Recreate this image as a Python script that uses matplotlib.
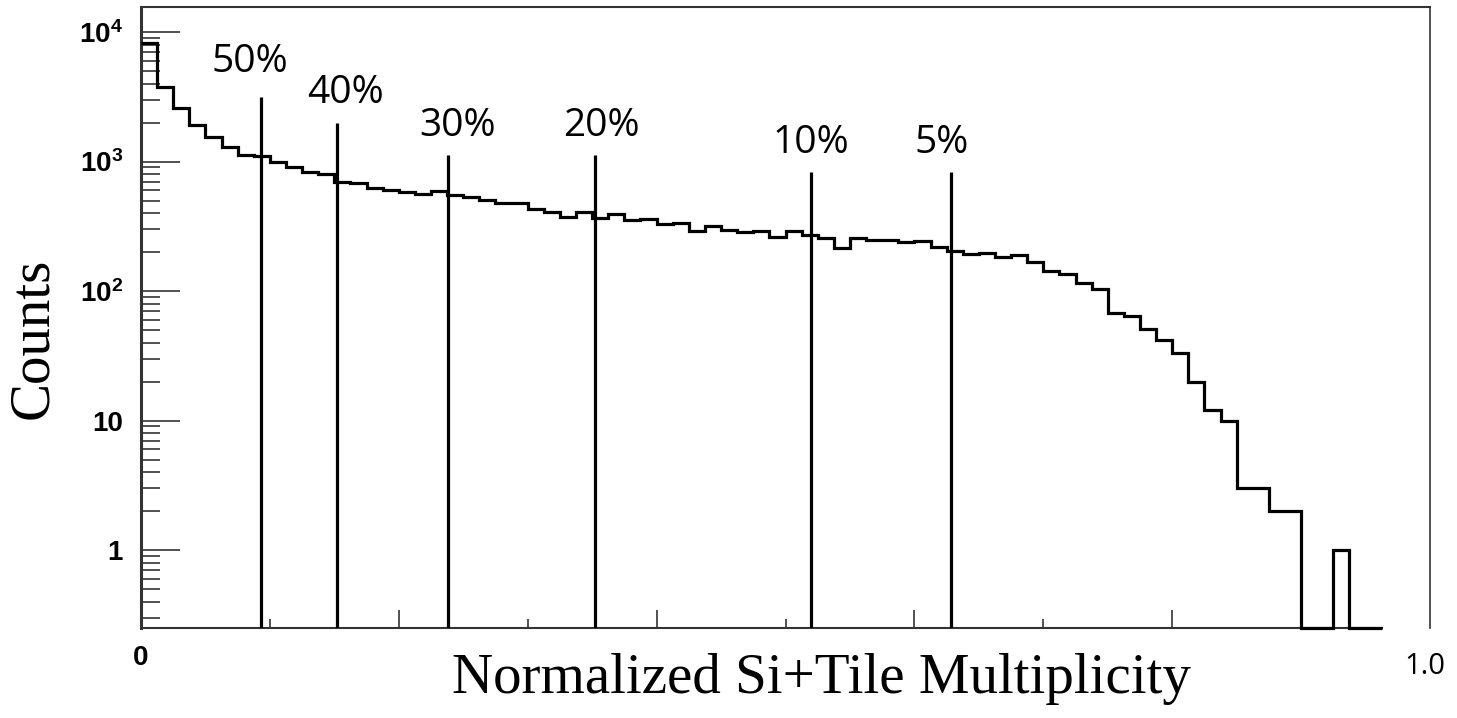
import matplotlib
import numpy as np

matplotlib.use("Agg")
import matplotlib.pyplot as plt
from matplotlib.ticker import FixedLocator, FixedFormatter, LogLocator, NullFormatter
import matplotlib.transforms as mtransforms

# histogram: 80 bins over [0, 1], filled up to bin 76
BIN_WIDTH = 1 / 80
COUNTS = [
    8200, 3780, 2575, 1915, 1555, 1302, 1123, 1103, 997, 912,
    834, 800, 695, 678, 628, 603, 585, 558, 592, 551,
    535, 504, 481, 481, 428, 405, 375, 405, 364, 393,
    355, 362, 329, 337, 292, 318, 296, 284, 292, 260,
    292, 271, 255, 216, 255, 248, 248, 239, 242, 220,
    204, 193, 196, 182, 190, 167, 144, 135, 115, 103,
    68, 64, 51, 42, 33, 20, 12, 10, 3, 3,
    2, 2, 0, 0, 1, 0, 0,
]

# centrality cuts
CUT_LABELS = ["50%", "40%", "30%", "20%", "10%", "5%"]
CUT_X = [0.0931, 0.1521, 0.2382, 0.3522, 0.5196, 0.6282]
CUT_TOP = [3130, 1970, 1120, 1120, 834, 834]

Y_TICKS = [1, 10, 100, 1000, 10000]
Y_TICK_LABELS = ["1", "10", r"$\mathbf{10^{2}}$", r"$\mathbf{10^{3}}$", r"$\mathbf{10^{4}}$"]

YMIN, YMAX = 0.25, 15600
INK = "#333333"

plt.rcParams["mathtext.fontset"] = "custom"
plt.rcParams["mathtext.bf"] = "Liberation Sans:bold"
plt.rcParams["mathtext.rm"] = "Liberation Sans:bold"

fig = plt.figure(figsize=(14.57, 7.18), dpi=100, facecolor="white")
ax = fig.add_axes([141 / 1457, 90 / 718, 1289 / 1457, 621 / 718])

counts = np.asarray(COUNTS, dtype=float)
edges = np.arange(len(counts) + 1) * BIN_WIDTH
ax.stairs(np.where(counts > 0, counts, YMIN), edges, baseline=None,
          color="black", lw=2.3, clip_on=False, zorder=3)

ax.vlines(CUT_X, YMIN, CUT_TOP, color="black", lw=2.3, zorder=4)
label_offsets = [(-11, 25), (8, 20), (10, 19), (6, 19), (0, 19), (-9, 19)]
for x, top, lab, (dx, dy) in zip(CUT_X, CUT_TOP, CUT_LABELS, label_offsets):
    ax.annotate(lab, (x, top), xytext=(dx, dy), textcoords="offset pixels",
                ha="center", va="baseline", fontsize=28, family="Open Sans", color="black")

ax.set_yscale("log")
ax.set_xlim(0, 1.0)
ax.set_ylim(YMIN, YMAX)

ax.yaxis.set_major_locator(FixedLocator(Y_TICKS))
ax.yaxis.set_major_formatter(FixedFormatter(Y_TICK_LABELS))
ax.yaxis.set_minor_locator(LogLocator(base=10, subs=np.arange(2, 10)))
ax.yaxis.set_minor_formatter(NullFormatter())
ax.tick_params(axis="y", which="major", direction="in", length=28, width=1.2, color=INK,
               pad=13, labelsize=20)
ax.tick_params(axis="y", which="minor", direction="in", length=14, width=1.2, color=INK)
for t in ax.get_yticklabels():
    t.set_fontweight("bold")
    t.set_family("Liberation Sans")

ax.set_xticks([0.2, 0.4, 0.6, 0.8])
ax.set_xticks([0.1, 0.3, 0.5, 0.7, 0.9], minor=True)
ax.tick_params(axis="x", which="major", direction="in", length=13, width=1.2, color=INK,
               labelbottom=False)
ax.tick_params(axis="x", which="minor", direction="in", length=6.5, width=1.2, color=INK)

trans = mtransforms.blended_transform_factory(ax.transData, ax.transAxes)
ax.text(0.0, -0.028, "0", transform=trans, ha="center", va="top", fontsize=20,
        fontweight="bold", family="Liberation Sans")
ax.text(0.996, -0.038, "1.0", transform=trans, ha="center", va="top", fontsize=21,
        family="Open Sans")

ax.spines["left"].set_linewidth(2.2)
ax.spines["bottom"].set_linewidth(1.5)
ax.spines["top"].set_linewidth(1.5)
ax.spines["right"].set_linewidth(1.2)
for s in ax.spines.values():
    s.set_color(INK)
ax.spines["bottom"].set_bounds(0, edges[-1])

fig.text(33 / 1457, 1 - 338 / 718, "Counts", rotation=90, ha="center", va="center",
         fontsize=41, family="Liberation Serif")
fig.text(821 / 1457, 1 - 693 / 718, "Normalized Si+Tile Multiplicity", ha="center",
         va="baseline", fontsize=41, family="Liberation Serif")

fig.savefig("out.png", dpi=100, facecolor="white")
plt.close(fig)
